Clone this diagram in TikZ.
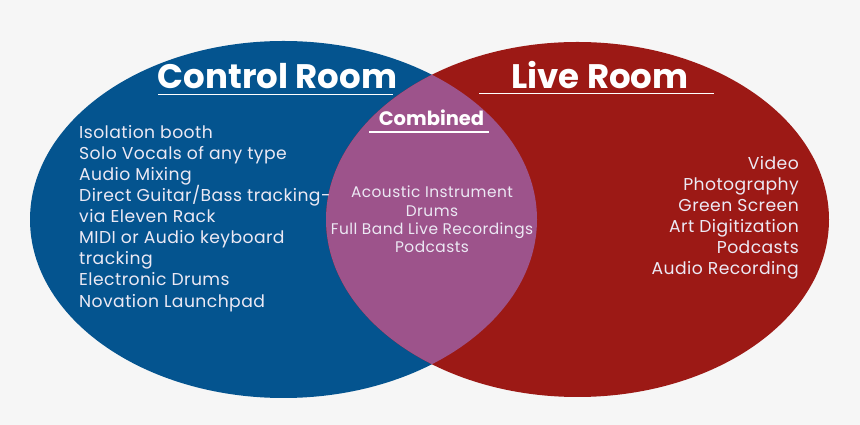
\documentclass[tikz,border=0pt]{standalone}
\usepackage{fontspec}
\setmainfont{Poppins}
\usetikzlibrary{positioning}
\definecolor{crblue}{HTML}{04548F}
\definecolor{lrred}{HTML}{9C1915}
\definecolor{cbpurple}{HTML}{9D538B}
\definecolor{pagebg}{HTML}{F6F6F6}
\definecolor{listwhite}{HTML}{ECE9F4}

\begin{document}
\begin{tikzpicture}[x=1pt, y=1pt,
  roomtitle/.style={text=white, font=\fontsize{34}{40}\selectfont\bfseries,
                    inner sep=0pt, anchor=base},
  titlerule/.style={draw=white, line width=1.6pt},
  roomlist/.style={text=listwhite,
                   font=\fontsize{17.2}{21.1}\selectfont\addfontfeatures{LetterSpace=2.5},
                   inner sep=0pt}]
\fill[pagebg] (0,0) rectangle (860,425);
\useasboundingbox (0,0) rectangle (860,425);
\fill[crblue] (283.5,205.5) ellipse [x radius=253.5, y radius=178.5];
\fill[lrred] (577.5,205.5) ellipse [x radius=251.5, y radius=177.5];
\begin{scope}
  \clip (283.5,205.5) ellipse [x radius=253.5, y radius=178.5];
  \fill[cbpurple] (577.5,205.5) ellipse [x radius=251.5, y radius=177.5];
\end{scope}
\node[roomtitle] (ctrl) at (277.5,336) {Control Room};
\draw[titlerule] (158,330.5) -- (393,330.5);
\node[roomtitle] (live) at (600,336) {Live Room};
\draw[titlerule] (479,331.5) -- (714,331.5);
\node[roomtitle, font=\fontsize{19.5}{23}\selectfont\bfseries] (comb) at (431.5,299) {Combined};
\draw[titlerule, line width=1.3pt] (369,293) -- (489,293);
\node[roomlist, anchor=north west, align=left] (ctrllist) at (79,300)
{Isolation booth\\
Solo Vocals of any type\\
Audio Mixing\\
Direct Guitar/Bass tracking-\\
via Eleven Rack\\
MIDI or Audio keyboard\\
tracking\\
Electronic Drums\\
Novation Launchpad};
\node[roomlist, anchor=north east, align=right] (livelist) at (799,269)
{Video\\
Photography\\
Green Screen\\
Art Digitization\\
Podcasts\\
Audio Recording};
\node[roomlist, font=\fontsize{15.4}{18.3}\selectfont\addfontfeatures{LetterSpace=3}, anchor=north, align=center] (comblist) at (432,239)
{Acoustic Instrument\\
Drums\\
Full Band Live Recordings\\
Podcasts};
\end{tikzpicture}
\end{document}
